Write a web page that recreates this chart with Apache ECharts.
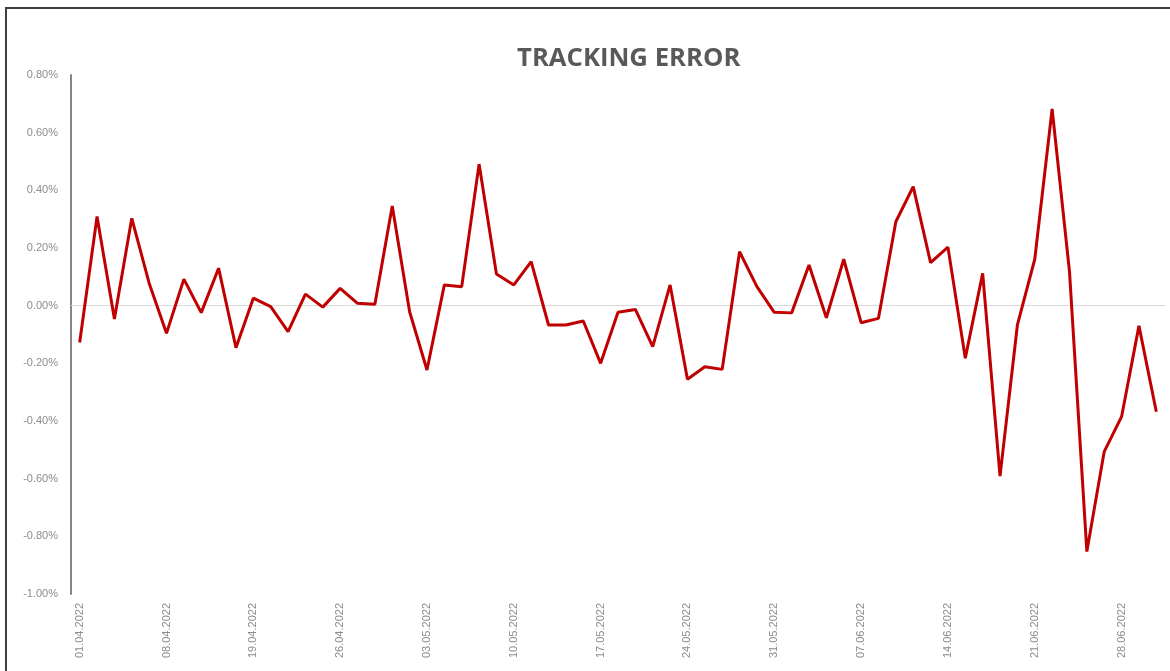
<!DOCTYPE html>
<html>
<head>
<meta charset="utf-8">
<script src="https://cdn.jsdelivr.net/npm/echarts@6/dist/echarts.min.js"></script>
<style>
  html, body { margin: 0; padding: 0; background: #ffffff; }
  #chart { position: absolute; left: 0; top: 0; width: 1170px; height: 671px; }
  #frame { position: absolute; left: 5px; top: 7px; width: 1170px; height: 680px;
           border-left: 2px solid #404040; border-top: 2px solid #404040; pointer-events: none; }
</style>
</head>
<body>
<div id="chart"></div>
<div id="frame"></div>
<script>
// Trading days (category labels)
const dates = [
  '01.04.2022','04.04.2022','05.04.2022','06.04.2022','07.04.2022','08.04.2022',
  '11.04.2022','12.04.2022','13.04.2022','14.04.2022','19.04.2022','20.04.2022',
  '21.04.2022','22.04.2022','25.04.2022','26.04.2022','27.04.2022','28.04.2022',
  '29.04.2022','02.05.2022','03.05.2022','04.05.2022','05.05.2022','06.05.2022',
  '09.05.2022','10.05.2022','11.05.2022','12.05.2022','13.05.2022','16.05.2022',
  '17.05.2022','18.05.2022','19.05.2022','20.05.2022','23.05.2022','24.05.2022',
  '25.05.2022','26.05.2022','27.05.2022','30.05.2022','31.05.2022','01.06.2022',
  '02.06.2022','03.06.2022','06.06.2022','07.06.2022','08.06.2022','09.06.2022',
  '10.06.2022','13.06.2022','14.06.2022','15.06.2022','16.06.2022','17.06.2022',
  '20.06.2022','21.06.2022','22.06.2022','23.06.2022','24.06.2022','27.06.2022',
  '28.06.2022','29.06.2022','30.06.2022'
];

// Tracking error values, in percent
const trackingError = [
  -0.128, 0.309, -0.046, 0.303, 0.078, -0.096,
  0.092, -0.024, 0.130, -0.146, 0.026, -0.003,
  -0.090, 0.040, -0.005, 0.060, 0.008, 0.005,
  0.346, -0.021, -0.223, 0.072, 0.066, 0.491,
  0.110, 0.072, 0.153, -0.067, -0.067, -0.053,
  -0.200, -0.023, -0.013, -0.142, 0.072, -0.255,
  -0.212, -0.221, 0.187, 0.066, -0.023, -0.025,
  0.141, -0.042, 0.161, -0.059, -0.044, 0.291,
  0.413, 0.149, 0.203, -0.182, 0.112, -0.591,
  -0.067, 0.161, 0.682, 0.118, -0.853, -0.506,
  -0.385, -0.070, -0.368
];

// Y axis range (percent)
const yMin = -1.0;
const yMax = 0.8;
const yStep = 0.2;

const chart = echarts.init(document.getElementById('chart'));
chart.setOption({
  animation: false,
  backgroundColor: '#ffffff',
  title: {
    text: 'TRACKING ERROR',
    left: 512,
    top: 41,
    textStyle: {
      fontFamily: 'Open Sans',
      fontWeight: 'bold',
      fontSize: 25.7,
      color: '#595959'
    }
  },
  grid: { left: 71, right: 5, top: 75, bottom: 77, containLabel: false },
  xAxis: {
    type: 'category',
    data: dates,
    boundaryGap: true,
    axisLine: { show: false },
    axisTick: { show: false },
    axisLabel: {
      interval: 4,
      rotate: 90,
      margin: 9,
      fontFamily: 'Liberation Sans',
      fontSize: 11,
      color: '#8c8c8c'
    },
    splitLine: { show: false }
  },
  yAxis: {
    type: 'value',
    min: yMin,
    max: yMax,
    interval: yStep,
    axisLine: { show: true, lineStyle: { color: '#868686', width: 2 } },
    axisTick: { show: false },
    splitLine: { show: false },
    axisLabel: {
      margin: 13,
      fontFamily: 'Liberation Sans',
      fontSize: 11,
      color: '#8c8c8c',
      formatter: function (v) { return (Math.round(v * 100) / 100).toFixed(2) + '%'; }
    }
  },
  series: [{
    type: 'line',
    data: trackingError,
    showSymbol: false,
    symbol: 'none',
    lineStyle: { color: '#c00000', width: 3 },
    z: 3,
    markLine: {
      silent: true,
      symbol: 'none',
      label: { show: false },
      lineStyle: { color: '#d9d9d9', width: 1, type: 'solid' },
      z: 1,
      data: [{ yAxis: 0 }]
    }
  }]
});
</script>
</body>
</html>
